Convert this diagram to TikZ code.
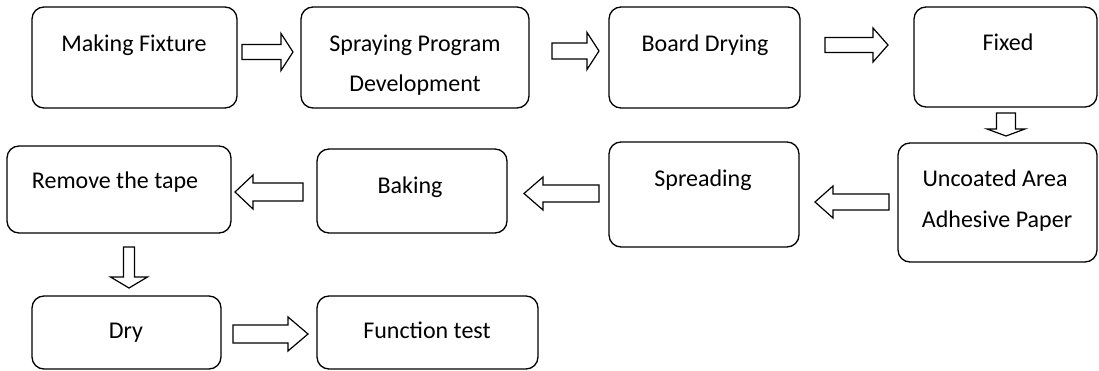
\documentclass[tikz,border=0pt]{standalone}
\usepackage{fontspec}
\setmainfont{Carlito}
\tikzset{
  box/.style={draw, line width=1.3pt, rounded corners=12pt, inner sep=0pt},
  lbl/.style={anchor=base, inner sep=0pt, font=\fontsize{24}{28}\selectfont},
  blk/.style={draw, line width=1.2pt, line join=miter, fill=white}
}
\newcommand\mybox[5]{\node[box, minimum width={(#4-#2)*1pt}, minimum height={(#5-#3)*1pt}] (#1) at ({(#2+#4)/2},{(#3+#5)/2}) {};}
% horizontal block arrow: x0, xb, xt, ymid, shaft half, head half
\newcommand\harrow[6]{\draw[blk] (#1,#4-#5) -- (#2,#4-#5) -- (#2,#4-#6) -- (#3,#4) -- (#2,#4+#6) -- (#2,#4+#5) -- (#1,#4+#5) -- cycle;}
% vertical block arrow: y0, yb, yt, xmid, shaft half, head half
\newcommand\varrow[6]{\draw[blk] (#4-#5,#1) -- (#4-#5,#2) -- (#4-#6,#2) -- (#4,#3) -- (#4+#6,#2) -- (#4+#5,#2) -- (#4+#5,#1) -- cycle;}
\begin{document}
\begin{tikzpicture}[x=1pt,y=-1pt]
\useasboundingbox (0,0) rectangle (1099,371);
% boxes
\mybox{b1}{32}{7}{237}{108}
\mybox{b2}{301}{7}{529}{108}
\mybox{b3}{609}{7}{800}{108}
\mybox{b4}{914}{7}{1097}{107}
\mybox{b5}{898}{143}{1097}{262}
\mybox{b6}{609}{142}{799}{247}
\mybox{b7}{317}{149}{507}{233}
\mybox{b8}{7}{146}{231}{233}
\mybox{b9}{32}{296}{221}{369}
\mybox{b10}{317}{296}{538}{369}
% labels
\node[lbl] (t1) at (134,52) {Making Fixture};
\node[lbl] (t2a) at (415,52) {Spraying Program};
\node[lbl] (t2b) at (415,92) {Development};
\node[lbl] (t3) at (705,52) {Board Drying};
\node[lbl] (t4) at (1008,51) {Fixed};
\node[lbl] (t5a) at (995,187) {Uncoated Area};
\node[lbl] (t5b) at (997,228) {Adhesive Paper};
\node[lbl] (t6) at (703,187) {Spreading};
\node[lbl] (t7) at (410,194) {Baking};
\node[lbl] (t8) at (115,189) {Remove the tape};
\node[lbl] (t9) at (126,338) {Dry};
\node[lbl] (t10) at (427,338) {Function test};
% block arrows
\harrow{242}{281}{293}{52}{7.5}{18.5}
\harrow{552}{587}{599}{51}{8}{18.5}
\harrow{825}{873}{888}{45}{7.5}{17}
\varrow{113}{129}{136}{1006}{9.5}{19}
\harrow{889}{833}{815}{202}{8}{16}
\harrow{599}{543}{524}{193.5}{8.5}{16.5}
\harrow{303}{253}{235}{192}{9}{17}
\varrow{247}{277}{288}{129}{5.5}{18.5}
\harrow{233}{288}{308}{334}{9}{17}
\end{tikzpicture}
\end{document}
